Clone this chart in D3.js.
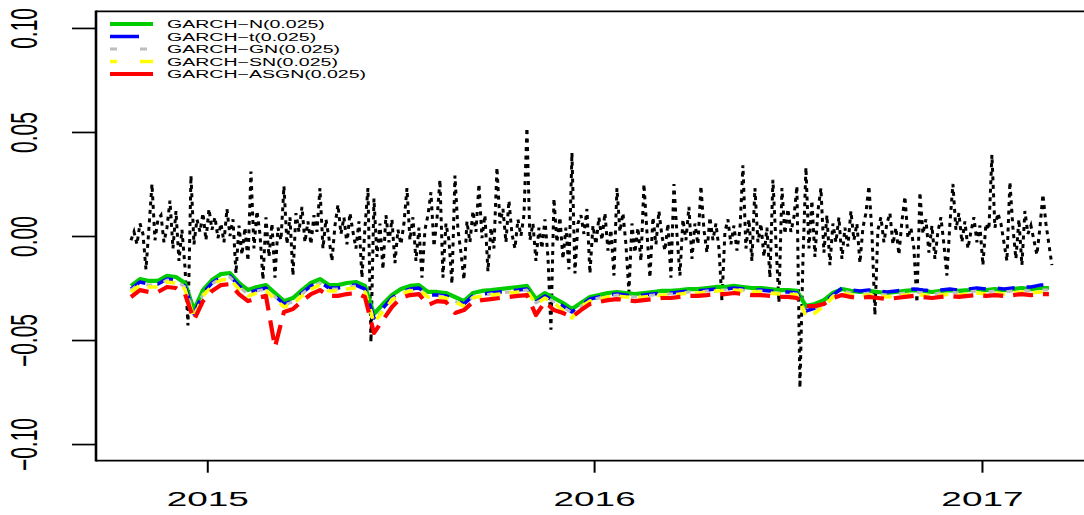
<!DOCTYPE html>
<html>
<head>
<meta charset="utf-8">
<script src="https://cdn.jsdelivr.net/npm/d3@7"></script>
<style>
  html, body { margin: 0; padding: 0; background: #fff; }
  svg { display: block; }
  text { font-family: "Liberation Sans", Arial, Helvetica, sans-serif; }
</style>
</head>
<body>
<svg id="chart" width="1084" height="515"></svg>
<script>
// Daily log-returns and 2.5% VaR forecasts of five GARCH specifications
const returnsStart = "2014-10-21";
const returnsEnd = "2017-03-08";

const returns = [
  -0.002, 0.002, -0.004, 0.006, 0.001, -0.016, 0.004, 0.025, -0.002, 0.008,
  0.010, -0.003, 0.004, 0.017, -0.006, 0.012, -0.012, 0.003, -0.015, -0.043,
  0.029, -0.004, 0.008, 0.002, 0.011, -0.002, 0.013, 0.003, 0.009, -0.001,
  0.006, -0.003, 0.013, 0.000, 0.008, -0.018, 0.005, -0.009, 0.004, -0.012,
  0.031, -0.006, 0.012, 0.001, -0.021, 0.009, -0.010, 0.006, -0.020, 0.004,
  -0.002, 0.024, -0.004, 0.009, -0.019, 0.011, 0.002, 0.014, -0.003, 0.007,
  -0.004, 0.010, 0.002, 0.023, -0.006, 0.008, -0.001, -0.012, 0.005, 0.015,
  0.001, 0.009, -0.004, 0.011, 0.002, -0.006, 0.007, -0.020, 0.004, 0.023,
  -0.051, 0.018, -0.010, 0.006, -0.016, 0.010, -0.003, 0.008, -0.013, 0.003,
  -0.004, 0.006, 0.023, -0.002, 0.009, -0.012, 0.004, -0.020, 0.003, 0.010,
  0.021, -0.005, 0.008, 0.027, -0.020, 0.006, -0.002, -0.023, 0.029, 0.003,
  -0.008, -0.021, 0.007, -0.003, 0.012, 0.002, 0.025, -0.001, 0.010, -0.017,
  0.004, -0.006, 0.033, 0.006, 0.013, -0.003, 0.017, 0.001, -0.006, 0.008,
  0.000, 0.010, 0.052, -0.002, 0.006, -0.012, 0.004, -0.006, 0.008, -0.010,
  -0.045, 0.018, -0.003, 0.009, -0.011, 0.004, -0.016, 0.040, -0.018, 0.006,
  0.010, 0.001, 0.013, -0.018, 0.005, -0.004, 0.009, -0.002, 0.011, -0.007,
  0.003, -0.019, 0.023, 0.002, 0.011, -0.004, -0.027, 0.006, -0.008, 0.004,
  -0.012, 0.025, 0.002, -0.020, 0.009, -0.004, 0.012, 0.000, -0.007, 0.006,
  -0.020, 0.025, 0.001, -0.019, 0.008, -0.002, 0.014, -0.011, 0.006, -0.004,
  0.024, 0.003, -0.008, 0.009, -0.002, 0.006, -0.006, -0.031, 0.002, 0.008,
  -0.004, 0.005, -0.007, 0.003, 0.034, -0.006, 0.008, -0.012, 0.023, -0.003,
  0.006, -0.010, 0.004, -0.020, 0.027, -0.003, -0.032, 0.023, 0.001, 0.013,
  0.002, 0.009, 0.024, -0.073, -0.012, 0.033, -0.006, 0.017, -0.010, 0.012,
  0.023, -0.008, 0.010, -0.014, 0.006, -0.003, 0.009, -0.011, 0.004, -0.005,
  0.012, -0.002, 0.006, -0.013, 0.004, 0.011, 0.024, 0.002, -0.038, 0.003,
  0.009, -0.003, 0.006, 0.011, -0.004, 0.004, -0.009, 0.007, 0.019, -0.001,
  0.004, -0.006, -0.032, 0.021, 0.001, 0.008, -0.008, 0.005, -0.011, 0.002,
  0.009, -0.004, -0.019, 0.006, 0.025, 0.003, 0.011, -0.003, 0.007, -0.006,
  0.002, 0.009, -0.003, 0.005, -0.014, 0.006, 0.003, 0.039, 0.004, 0.011,
  0.006, -0.003, -0.012, 0.026, 0.004, -0.011, 0.008, -0.014, 0.012, 0.001,
  0.005, -0.002, -0.009, 0.004, 0.020, 0.006, -0.004, -0.014
];

// VaR forecasts are kept for every third observation
const varStep = 3;

const varN = [
  -0.0240, -0.0207, -0.0216, -0.0216, -0.0192, -0.0197, -0.0226, -0.0356, -0.0260, -0.0212,
  -0.0183, -0.0178, -0.0226, -0.0260, -0.0245, -0.0236, -0.0274, -0.0313, -0.0298, -0.0260,
  -0.0226, -0.0207, -0.0236, -0.0236, -0.0226, -0.0221, -0.0240, -0.0375, -0.0327, -0.0284,
  -0.0255, -0.0240, -0.0236, -0.0269, -0.0269, -0.0274, -0.0293, -0.0313, -0.0274, -0.0264,
  -0.0260, -0.0255, -0.0250, -0.0245, -0.0240, -0.0303, -0.0274, -0.0298, -0.0322, -0.0351,
  -0.0322, -0.0293, -0.0284, -0.0274, -0.0269, -0.0274, -0.0279, -0.0274, -0.0269, -0.0264,
  -0.0264, -0.0260, -0.0255, -0.0255, -0.0250, -0.0245, -0.0245, -0.0240, -0.0245, -0.0250,
  -0.0250, -0.0255, -0.0260, -0.0260, -0.0264, -0.0337, -0.0327, -0.0308, -0.0274, -0.0255,
  -0.0264, -0.0269, -0.0264, -0.0269, -0.0274, -0.0269, -0.0264, -0.0260, -0.0264, -0.0269,
  -0.0264, -0.0260, -0.0264, -0.0260, -0.0255, -0.0260, -0.0255, -0.0260, -0.0255, -0.0250,
  -0.0255, -0.0250, -0.0250
];

const varT = [
  -0.0255, -0.0221, -0.0231, -0.0231, -0.0207, -0.0212, -0.0240, -0.0375, -0.0274, -0.0226,
  -0.0197, -0.0192, -0.0240, -0.0274, -0.0260, -0.0250, -0.0288, -0.0327, -0.0313, -0.0274,
  -0.0240, -0.0221, -0.0250, -0.0250, -0.0240, -0.0236, -0.0255, -0.0394, -0.0346, -0.0298,
  -0.0269, -0.0255, -0.0250, -0.0284, -0.0284, -0.0288, -0.0308, -0.0327, -0.0288, -0.0279,
  -0.0274, -0.0269, -0.0264, -0.0260, -0.0255, -0.0317, -0.0288, -0.0313, -0.0337, -0.0365,
  -0.0332, -0.0303, -0.0293, -0.0284, -0.0279, -0.0284, -0.0288, -0.0284, -0.0279, -0.0274,
  -0.0274, -0.0269, -0.0264, -0.0264, -0.0260, -0.0255, -0.0255, -0.0250, -0.0255, -0.0260,
  -0.0260, -0.0264, -0.0269, -0.0269, -0.0274, -0.0361, -0.0346, -0.0322, -0.0284, -0.0250,
  -0.0260, -0.0264, -0.0260, -0.0264, -0.0269, -0.0264, -0.0260, -0.0255, -0.0260, -0.0264,
  -0.0260, -0.0255, -0.0260, -0.0255, -0.0250, -0.0255, -0.0250, -0.0255, -0.0250, -0.0245,
  -0.0245, -0.0236, -0.0236
];

const varGN = [
  -0.0260, -0.0226, -0.0236, -0.0236, -0.0212, -0.0216, -0.0245, -0.0380, -0.0279, -0.0231,
  -0.0202, -0.0197, -0.0245, -0.0279, -0.0264, -0.0255, -0.0293, -0.0332, -0.0317, -0.0279,
  -0.0245, -0.0226, -0.0255, -0.0255, -0.0245, -0.0240, -0.0260, -0.0404, -0.0356, -0.0303,
  -0.0274, -0.0260, -0.0255, -0.0288, -0.0288, -0.0293, -0.0313, -0.0332, -0.0293, -0.0284,
  -0.0279, -0.0274, -0.0269, -0.0264, -0.0260, -0.0322, -0.0293, -0.0317, -0.0341, -0.0370,
  -0.0337, -0.0308, -0.0298, -0.0288, -0.0284, -0.0288, -0.0293, -0.0288, -0.0284, -0.0279,
  -0.0279, -0.0274, -0.0269, -0.0269, -0.0264, -0.0260, -0.0260, -0.0255, -0.0260, -0.0264,
  -0.0264, -0.0269, -0.0274, -0.0274, -0.0279, -0.0370, -0.0356, -0.0327, -0.0288, -0.0264,
  -0.0274, -0.0279, -0.0274, -0.0279, -0.0284, -0.0279, -0.0274, -0.0269, -0.0274, -0.0279,
  -0.0274, -0.0269, -0.0274, -0.0269, -0.0264, -0.0269, -0.0264, -0.0269, -0.0264, -0.0260,
  -0.0264, -0.0260, -0.0260
];

const varSN = [
  -0.0269, -0.0236, -0.0245, -0.0245, -0.0221, -0.0226, -0.0255, -0.0394, -0.0288, -0.0240,
  -0.0212, -0.0207, -0.0255, -0.0288, -0.0274, -0.0264, -0.0303, -0.0341, -0.0327, -0.0288,
  -0.0255, -0.0236, -0.0264, -0.0264, -0.0255, -0.0250, -0.0269, -0.0418, -0.0361, -0.0308,
  -0.0279, -0.0264, -0.0260, -0.0293, -0.0293, -0.0298, -0.0317, -0.0337, -0.0298, -0.0288,
  -0.0284, -0.0279, -0.0274, -0.0269, -0.0264, -0.0327, -0.0298, -0.0322, -0.0356, -0.0394,
  -0.0341, -0.0313, -0.0303, -0.0293, -0.0288, -0.0293, -0.0298, -0.0293, -0.0288, -0.0284,
  -0.0284, -0.0279, -0.0274, -0.0274, -0.0269, -0.0264, -0.0264, -0.0260, -0.0264, -0.0269,
  -0.0269, -0.0274, -0.0279, -0.0279, -0.0284, -0.0385, -0.0370, -0.0337, -0.0293, -0.0274,
  -0.0284, -0.0288, -0.0284, -0.0288, -0.0293, -0.0288, -0.0284, -0.0279, -0.0284, -0.0288,
  -0.0284, -0.0279, -0.0284, -0.0279, -0.0274, -0.0279, -0.0274, -0.0279, -0.0274, -0.0269,
  -0.0274, -0.0269, -0.0269
];

const varASGN = [
  -0.0293, -0.0260, -0.0269, -0.0269, -0.0245, -0.0250, -0.0279, -0.0404, -0.0313, -0.0264,
  -0.0236, -0.0231, -0.0279, -0.0313, -0.0298, -0.0288, -0.0534, -0.0365, -0.0351, -0.0313,
  -0.0279, -0.0260, -0.0288, -0.0288, -0.0279, -0.0274, -0.0293, -0.0466, -0.0404, -0.0341,
  -0.0298, -0.0284, -0.0279, -0.0332, -0.0313, -0.0317, -0.0370, -0.0356, -0.0317, -0.0308,
  -0.0303, -0.0298, -0.0293, -0.0288, -0.0284, -0.0380, -0.0317, -0.0356, -0.0370, -0.0389,
  -0.0356, -0.0327, -0.0317, -0.0308, -0.0303, -0.0308, -0.0313, -0.0308, -0.0303, -0.0298,
  -0.0298, -0.0293, -0.0288, -0.0288, -0.0284, -0.0279, -0.0279, -0.0274, -0.0279, -0.0284,
  -0.0284, -0.0288, -0.0293, -0.0293, -0.0298, -0.0337, -0.0337, -0.0327, -0.0298, -0.0284,
  -0.0293, -0.0298, -0.0293, -0.0298, -0.0303, -0.0298, -0.0293, -0.0288, -0.0293, -0.0298,
  -0.0293, -0.0288, -0.0293, -0.0288, -0.0284, -0.0288, -0.0284, -0.0288, -0.0284, -0.0279,
  -0.0284, -0.0279, -0.0279
];

const seriesLabels = [
  "GARCH\u2212N(0.025)",
  "GARCH\u2212t(0.025)",
  "GARCH\u2212GN(0.025)",
  "GARCH\u2212SN(0.025)",
  "GARCH\u2212ASGN(0.025)"
];
const yearTicks = ["2015-01-01", "2016-01-01", "2017-01-01"];
const yTicks = [-0.10, -0.05, 0.00, 0.05, 0.10];

// ---- layout ----
const parse = d3.utcParse("%Y-%m-%d");
const plotLeft = 96, plotRight = 1089, plotTop = 11.3, plotBottom = 460.7;

const x = d3.scaleUtc()
  .domain([parse("2014-09-18"), parse("2017-04-12")])
  .range([plotLeft, plotRight]);
const y = d3.scaleLinear()
  .domain([-0.108, 0.108])
  .range([plotBottom, plotTop]);

const t0 = parse(returnsStart), t1 = parse(returnsEnd);
const dates = returns.map((_, i) => new Date(+t0 + (t1 - t0) * i / (returns.length - 1)));
const varDates = dates.filter((d, i) => i % varStep === 0);

const svg = d3.select("#chart");
const line = d3.line().x(d => x(d[0])).y(d => y(d[1]));

// returns: black dotted
svg.append("path")
  .datum(dates.map((d, i) => [d, returns[i]]))
  .attr("d", line)
  .attr("fill", "none")
  .attr("stroke", "#000")
  .attr("stroke-width", 3)
  .attr("stroke-dasharray", "4,4.5");

// VaR series, drawn in legend order so the last one sits on top
const series = [
  { values: varN,    color: "#00cc00", width: 4.2, dash: null,      legDash: null,         legEnd: 153 },
  { values: varT,    color: "#0000ff", width: 3.5, dash: "17,12",   legDash: null,         legEnd: 139 },
  { values: varGN,   color: "#bebebe", width: 3.0, dash: "6,12",    legDash: "7,23",       legEnd: 153 },
  { values: varSN,   color: "#ffff00", width: 3.6, dash: "10,9",    legDash: "7,23,30,23", legEnd: 153 },
  { values: varASGN, color: "#ff0000", width: 4.2, dash: "20,10",   legDash: null,         legEnd: 153 }
];

series.forEach(s => {
  svg.append("path")
    .datum(varDates.map((d, i) => [d, s.values[i]]))
    .attr("d", line)
    .attr("fill", "none")
    .attr("stroke", s.color)
    .attr("stroke-width", s.width)
    .attr("stroke-linejoin", "round")
    .attr("stroke-dasharray", s.dash);
});

// plot frame
const frame = svg.append("g").attr("stroke", "#000").attr("fill", "none");
frame.append("line").attr("x1", plotLeft).attr("x2", plotLeft)
  .attr("y1", plotTop - 0.9).attr("y2", plotBottom + 0.9).attr("stroke-width", 2.6);
frame.append("line").attr("x1", plotLeft).attr("x2", plotRight)
  .attr("y1", plotTop).attr("y2", plotTop).attr("stroke-width", 1.8);
frame.append("line").attr("x1", plotLeft).attr("x2", plotRight)
  .attr("y1", plotBottom).attr("y2", plotBottom).attr("stroke-width", 1.8);
frame.append("line").attr("x1", plotRight).attr("x2", plotRight)
  .attr("y1", plotTop).attr("y2", plotBottom).attr("stroke-width", 2.6);

// x axis
const gx = svg.append("g")
  .attr("transform", `translate(0,${plotBottom})`)
  .call(d3.axisBottom(x)
    .tickValues(yearTicks.map(parse))
    .tickSize(12)
    .tickFormat(d3.utcFormat("%Y")));
gx.select(".domain").remove();
gx.selectAll(".tick line").attr("stroke", "#000").attr("stroke-width", 2);
gx.selectAll(".tick text")
  .attr("y", null).attr("dy", null)
  .attr("fill", "#000")
  .attr("font-size", 21)
  .attr("font-family", "Liberation Sans, Arial, sans-serif")
  .attr("transform", "translate(0,45.3) scale(1.76,1)");

// y axis
const gy = svg.append("g")
  .attr("transform", `translate(${plotLeft},0)`)
  .call(d3.axisLeft(y)
    .tickValues(yTicks)
    .tickSize(24)
    .tickFormat(d3.format(".2f")));
gy.select(".domain").remove();
gy.selectAll(".tick line").attr("stroke", "#000").attr("stroke-width", 1.7);
gy.selectAll(".tick text")
  .attr("x", null).attr("dy", null)
  .attr("fill", "#000")
  .attr("font-size", 21)
  .attr("font-family", "Liberation Sans, Arial, sans-serif")
  .attr("text-anchor", "middle")
  .attr("transform", "translate(-59,0) scale(1.75,1) rotate(-90)");

// legend
const legend = svg.append("g");
series.forEach((s, i) => {
  const yc = 24 + i * 12.5;
  legend.append("line")
    .attr("x1", 110).attr("x2", s.legEnd)
    .attr("y1", yc).attr("y2", yc)
    .attr("stroke", s.color)
    .attr("stroke-width", s.width)
    .attr("stroke-dasharray", s.legDash);
  legend.append("text")
    .attr("transform", `translate(167,${yc + 4.1}) scale(1.7,1)`)
    .attr("font-size", 11.5)
    .attr("fill", "#000")
    .text(seriesLabels[i]);
});
</script>
</body>
</html>
